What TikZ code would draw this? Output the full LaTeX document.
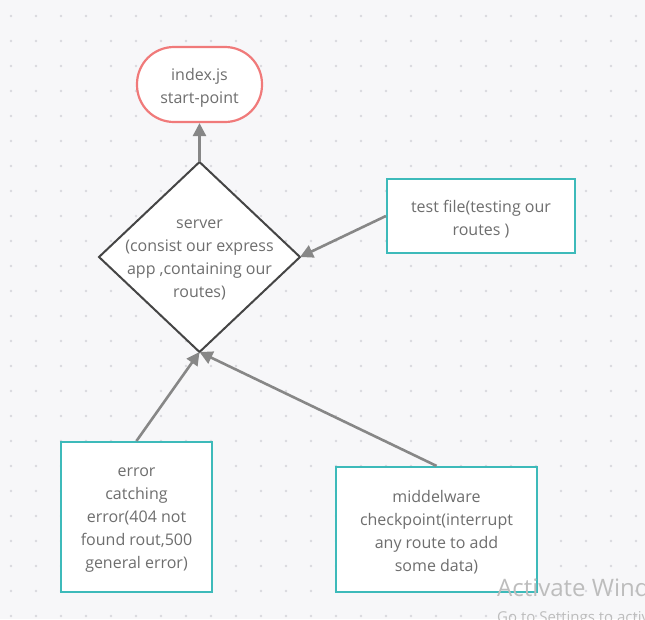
\documentclass[tikz,border=0pt]{standalone}
\usepackage{fontspec}
\setmainfont{Open Sans}
\usetikzlibrary{arrows.meta,shapes.geometric}
\definecolor{bgc}{HTML}{F7F7F9}
\definecolor{dotc}{HTML}{D9D9DE}
\definecolor{txtc}{HTML}{6E6E6E}
\definecolor{arrc}{HTML}{878787}
\definecolor{redc}{HTML}{F07A7A}
\definecolor{tealc}{HTML}{3DBABA}
\definecolor{diac}{HTML}{454545}
\definecolor{wmc}{HTML}{BDBDBD}
\tikzset{
  lbl/.style={text=txtc,font=\fontsize{16}{23}\selectfont,align=center,inner sep=0pt},
  tealbox/.style={draw=tealc,line width=2.2pt,fill=white,inner sep=0pt},
  conn/.style={draw=arrc,line width=2.6pt,-{Triangle[length=13pt,width=13pt]}},
}
\begin{document}
\begin{tikzpicture}[x=1pt,y=-1pt]
\useasboundingbox (0,0) rectangle (645,619);
\clip (0,0) rectangle (645,619);
\fill[bgc] (0,0) rectangle (645,619);
\foreach \i in {0,...,25}{\foreach \j in {0,...,24}{
  \fill[dotc] (11+25*\i,16+25*\j) circle (1.3pt);}}
% nodes
\node[draw=redc,line width=2.2pt,fill=white,rounded corners=37pt,minimum width=125pt,minimum height=75pt,inner sep=0pt] (start) at (199.5,84.5) {};
\node[lbl] (startt) at ([yshift=-3pt]start.center) {index.js\\start-point};
\node[draw=diac,line width=2pt,fill=white,shape=diamond,minimum width=201pt,minimum height=190pt,inner sep=0pt,outer sep=0pt] (srv) at (199.5,257) {};
\node[lbl] (srvt) at ([yshift=-3pt]srv.center) {server\\(consist our express\\app ,containing our\\routes)};
\node[tealbox,minimum width=188pt,minimum height=74pt] (test) at (481,216) {};
\node[lbl] (testt) at ([yshift=-3pt]test.center) {test file(testing our\\routes )};
\node[tealbox,minimum width=151pt,minimum height=150pt] (err) at (136.5,517) {};
\node[lbl] (errt) at ([yshift=-3pt]err.center) {error\\catching\\error(404 not\\found rout,500\\general error)};
\node[tealbox,minimum width=201pt,minimum height=125pt] (mid) at (436.5,529.5) {};
\node[lbl] (midt) at ([yshift=-3pt]mid.center) {middelware\\checkpoint(interrupt\\any route to add\\some data)};
% connectors
\draw[conn] (srv.north) -- (start.south);
\draw[conn] (test.west) -- (srv.east);
\draw[conn] (err.north) -- (srv.south);
\draw[conn] (mid.north) -- (srv.south);
% watermark
\node[anchor=base west,text=wmc,font=\fontsize{24}{24}\selectfont,inner sep=0pt] (wm1) at (497,596) {Activate Windows};
\node[anchor=base west,text=wmc,font=\fontsize{15}{15}\selectfont,inner sep=0pt] (wm2) at (497,622) {Go to Settings to activate Windows.};
\end{tikzpicture}
\end{document}
